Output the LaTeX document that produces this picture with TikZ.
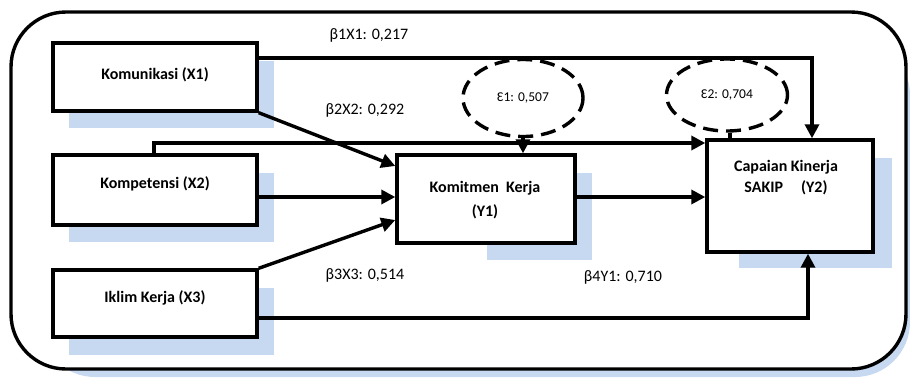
\documentclass[tikz,border=0pt]{standalone}
\usepackage{fontspec}
\setmainfont{Carlito}
\usetikzlibrary{shapes.geometric,arrows.meta}
\definecolor{shadowblue}{RGB}{198,217,241}
\begin{document}
\begin{tikzpicture}[x=1pt,y=-1pt,
  box/.style={draw=black,line width=3.4pt,fill=white,rectangle,inner sep=0pt},
  boxtext/.style={font=\fontsize{16}{18}\selectfont\bfseries,inner sep=0pt,align=center},
  shadowbox/.style={fill=shadowblue,draw=white,line width=0.8pt},
  err/.style={draw=black,line width=3.4pt,dash pattern=on 15pt off 8pt,ellipse,inner sep=0pt,font=\fontsize{13.5}{15}\selectfont},
  conn/.style={line width=3.4pt},
  arr/.style={conn,-{Triangle[length=14pt,width=14pt]}},
  lbl/.style={font=\fontsize{16}{18}\selectfont,inner sep=0pt}]
\useasboundingbox (0,0) rectangle (910,378);
% outer frame
\fill[shadowblue] (40,40) [rounded corners=55pt] -- (910,40) -- (910,377) -- (40,377) [sharp corners] -- cycle;
\draw[line width=3.4pt,fill=white,rounded corners=55pt] (11,12) rectangle (906,369);
% shadows
\fill[shadowbox] (68,60) rectangle (274,128);
\fill[shadowbox] (68,172) rectangle (274,242);
\fill[shadowbox] (68,287) rectangle (274,355);
\fill[shadowbox] (486,172) rectangle (592,260);
\fill[shadowbox] (738,157) rectangle (892,268);
% nodes
\node[box,minimum width=204pt,minimum height=68pt] (X1) at (155,77) {};
\node[box,minimum width=204pt,minimum height=70pt] (X2) at (155,190) {};
\node[box,minimum width=204pt,minimum height=67pt] (X3) at (155,303.5) {};
\node[box,minimum width=178pt,minimum height=88pt] (Y1) at (486,199) {};
\node[box,minimum width=166pt,minimum height=112pt] (Y2) at (790,196) {};
\node[boxtext] (tX1) at (155,75) {Komunikasi (X1)};
\node[boxtext] (tX2) at (155,184) {Kompetensi (X2)};
\node[boxtext] (tX3) at (155,298) {Iklim Kerja (X3)};
\node[boxtext,font=\fontsize{16}{24}\selectfont\bfseries] (tY1) at (485,200) {Komitmen\ \ Kerja\\(Y1)};
\node[boxtext,font=\fontsize{16}{21}\selectfont\bfseries] (tY2) at (786,178) {Capaian Kinerja\\SAKIP\ \ \ \ \ (Y2)};
\node[err,minimum width=120pt,minimum height=77pt] (E1) at (523,98) {Ɛ1: 0,507};
\node[err,minimum width=121pt,minimum height=72pt] (E2) at (727,95) {Ɛ2: 0,704};
% labels
\node[lbl] (L1) at (369,35) {β1X1: 0,217};
\node[lbl] (L2) at (365,110) {β2X2: 0,292};
\node[lbl] (L3) at (365,275) {β3X3: 0,514};
\node[lbl] (L4) at (623,277) {β4Y1: 0,710};
% connectors
\draw[arr] ([yshift=19pt]X1.east) -| ([xshift=22pt]Y2.north);
\draw[arr] ([xshift=-1pt]X2.north) |- ([yshift=53pt]Y2.west);
\draw[arr] (E1.south) -- (E1.south |- Y1.north);
\draw[conn] ([xshift=3pt]E2.south) -- ([xshift=3pt]E2.south |- Y2.north);
\draw[arr] (X1.south east) -- ([yshift=33pt]Y1.west);
\draw[arr] ([yshift=-7pt]X2.east) -- ([yshift=-7pt]X2.east -| Y1.west);
\draw[arr] (X3.north east) -- ([yshift=-21pt]Y1.west);
\draw[arr] ([yshift=2pt]Y1.east) -- ([yshift=2pt]Y1.east -| Y2.west);
\draw[arr] ([yshift=-14.5pt]X3.east) -| ([xshift=18pt]Y2.south);
\end{tikzpicture}
\end{document}
